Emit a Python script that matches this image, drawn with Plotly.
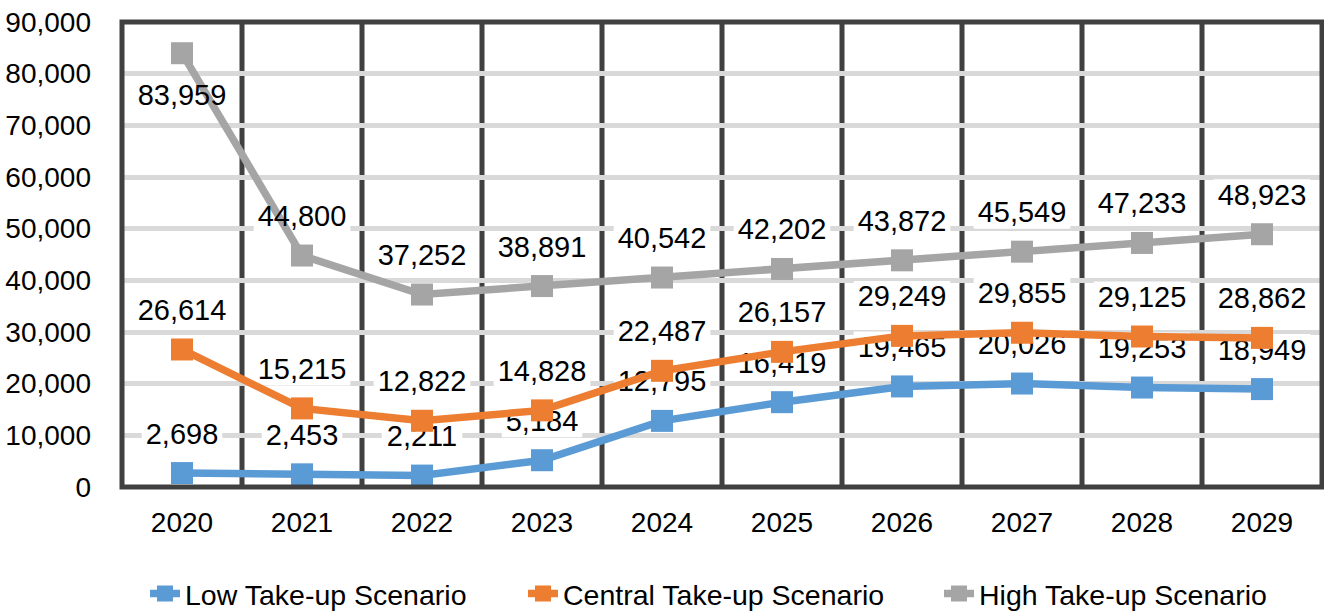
import plotly.graph_objects as go

years = ["2020", "2021", "2022", "2023", "2024", "2025", "2026", "2027", "2028", "2029"]
low = [2698, 2453, 2211, 5184, 12795, 16419, 19465, 20026, 19253, 18949]
central = [26614, 15215, 12822, 14828, 22487, 26157, 29249, 29855, 29125, 28862]
high = [83959, 44800, 37252, 38891, 40542, 42202, 43872, 45549, 47233, 48923]

series_names = ["Low Take-up Scenario", "Central Take-up Scenario", "High Take-up Scenario"]
series_values = [low, central, high]
series_colors = ["#5b9bd5", "#ed7d31", "#a5a5a5"]
# labels placed below their point: (series index, point index)
labels_below = [(2, 0)]

FONT = "Liberation Sans, Arial, sans-serif"
LABEL_SIZE = 29
TICK_SIZE = 28
LEGEND_SIZE = 28.5
xs = list(range(len(years)))

# plot-area geometry (pixels)
W, H = 1324, 612
L, R, T, B = 122, 2, 22, 125
plot_w = W - L - R
plot_h = H - T - B

fig = go.Figure()
shapes = []
# vertical category separators
for b in range(len(years) - 1):
    shapes.append(dict(
        type="line", xref="x", yref="paper", x0=b + 0.5, x1=b + 0.5, y0=0, y1=1,
        line=dict(color="#404040", width=5), layer="between",
    ))

UP, DOWN = 39, -43
for si, (name, vals, col) in enumerate(zip(series_names, series_values, series_colors)):
    fig.add_trace(go.Scatter(
        x=xs, y=vals, name=name, mode="lines+markers",
        line=dict(color=col, width=7.5),
        marker=dict(symbol="square", size=22, color=col),
        hoverinfo="skip", legend=["legend", "legend2", "legend3"][si],
    ))
    texts = [f"{v:,}" for v in vals]
    below_flags = [(si, i) in labels_below for i in range(len(vals))]
    fig.add_trace(go.Scatter(
        x=xs, y=vals, mode="markers+text", text=texts,
        textposition=["bottom center" if f else "top center" for f in below_flags],
        marker=dict(size=[47 if f else 34 for f in below_flags], opacity=0, color="white"),
        textfont=dict(family=FONT, size=LABEL_SIZE, color="black"),
        showlegend=False, hoverinfo="skip",
    ))
    for i, (v, t, f) in enumerate(zip(vals, texts, below_flags)):
        off = DOWN if f else UP
        digits = sum(c.isdigit() for c in t)
        commas = t.count(",")
        half_w = (LABEL_SIZE * (0.556 * digits + 0.278 * commas)) / 2 + 4
        shapes.append(dict(
            type="rect", xref="x", yref="y", layer="between",
            xsizemode="pixel", xanchor=i, x0=-half_w, x1=half_w,
            ysizemode="pixel", yanchor=v, y0=off - 16, y1=off + 16,
            fillcolor="white", line=dict(width=0),
        ))

# plot-area border
shapes.append(dict(type="rect", xref="paper", yref="paper", x0=0, x1=1, y0=0, y1=1,
                   line=dict(color="#404040", width=5), fillcolor="rgba(0,0,0,0)", layer="above"))

def legend_at(text_left_px):
    return dict(orientation="h", x=(text_left_px - 41 - L) / plot_w, xanchor="left",
                y=-(594 - (H - B)) / plot_h, yanchor="middle",
                font=dict(family=FONT, size=LEGEND_SIZE, color="black"),
                bgcolor="rgba(0,0,0,0)")

fig.update_layout(
    width=W, height=H,
    margin=dict(l=L, r=R, t=T, b=B, autoexpand=False),
    paper_bgcolor="white", plot_bgcolor="white",
    font=dict(family=FONT, size=TICK_SIZE, color="black"),
    showlegend=True,
    legend=legend_at(186),
    legend2=legend_at(564),
    legend3=legend_at(980),
    shapes=shapes,
)
fig.update_xaxes(
    range=[-0.5, len(years) - 0.5], tickmode="array", tickvals=xs, ticktext=years,
    showgrid=False, zeroline=False, showline=False, automargin=False,
    ticks="outside", ticklen=5, tickcolor="rgba(0,0,0,0)", ticklabelstandoff=5,
    tickfont=dict(family=FONT, size=TICK_SIZE, color="black"),
)
fig.update_yaxes(
    range=[0, 90000], dtick=10000, tickformat=",d",
    showgrid=True, gridcolor="#d9d9d9", gridwidth=5, automargin=False,
    zeroline=False, showline=False, ticks="", ticklabelstandoff=30,
    tickfont=dict(family=FONT, size=TICK_SIZE, color="black"),
)

fig.write_html("out.html", config={"displayModeBar": False},
               post_script="document.body.style.margin='0';document.body.style.overflow='hidden';")
